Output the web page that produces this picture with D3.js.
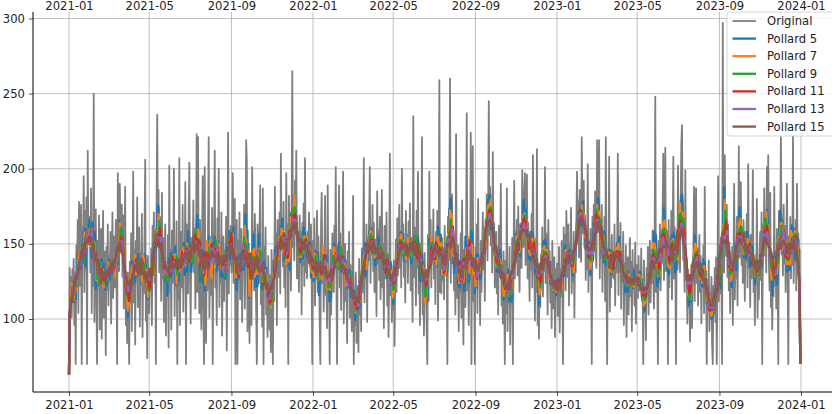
<!DOCTYPE html>
<html>
<head>
<meta charset="utf-8">
<script src="https://cdn.jsdelivr.net/npm/d3@7"></script>
<style>
  body { margin: 0; background: #fff; }
  text { font-family: "DejaVu Sans", sans-serif; }
</style>
</head>
<body>
<svg id="chart" width="832" height="414"></svg>
<script>
// daily values, one year per array
const data2021 = [
  63,134,112,128,101,133,118,140,96,131,70,149,121,166,104,178,122,139,176,70,161,143,195,118,172,133,181,70,212,150,167,
  168,131,187,104,159,122,250,98,146,173,112,70,152,128,169,93,141,160,87,138,172,101,127,145,76,148,119,163,
  109,142,125,158,97,137,171,114,133,155,121,166,136,70,197,148,132,190,161,144,176,128,169,107,143,188,96,118,84,131,102,
  70,138,116,157,92,129,198,111,146,83,152,127,181,108,139,161,95,144,123,170,88,135,117,158,206,99,131,74,142,120,
  104,133,119,147,96,162,138,171,124,158,70,177,236,149,186,131,168,143,112,184,127,154,98,141,163,89,135,117,156,81,202,
  118,146,93,159,124,137,200,102,148,127,165,70,139,113,207,96,142,158,121,176,105,149,132,191,70,163,138,117,169,204,
  128,97,154,136,142,179,131,160,107,145,223,118,221,139,104,166,125,93,150,195,110,70,201,128,84,147,119,163,221,101,138,
  152,116,174,70,139,158,212,121,143,96,167,133,200,108,149,124,171,89,137,155,112,146,128,168,79,141,224,117,153,136,162,
  131,159,197,124,145,180,70,138,166,70,152,129,171,113,143,160,98,149,134,176,107,142,219,205,92,128,150,84,117,139,
  96,201,133,158,119,170,142,105,70,163,147,124,159,189,110,137,95,187,70,148,126,161,103,134,88,142,117,93,129,78,146,
  121,70,139,112,188,134,157,96,166,143,128,171,117,210,149,162,135,178,121,154,108,197,141,163,70,182,137,156,119,168,
  265,148,158,139,192,161,212,127,151,150,118,169,141,158,103,164,136,177,122,207,131,149,127,158,140,171,135,146,163,124,70
];
const data2022 = [
  152,128,167,109,146,131,172,118,155,137,99,70,161,184,124,143,105,138,182,116,131,94,189,112,127,70,146,103,121,157,136,
  118,162,134,201,126,70,149,138,189,121,157,106,143,131,198,97,128,150,112,139,84,145,123,158,101,136,117,92,
  128,182,70,115,96,131,84,109,122,78,140,103,126,92,147,118,136,207,111,144,127,163,98,152,139,171,201,124,158,143,176,
  132,164,118,153,141,102,185,137,159,126,168,113,145,186,121,150,94,162,138,127,171,109,143,88,135,210,116,131,98,124,
  107,139,82,126,153,118,167,129,145,176,134,158,121,200,142,163,128,149,111,172,138,156,124,165,143,177,119,154,136,98,235,
  128,161,143,109,172,134,198,117,150,96,139,124,221,103,131,89,144,118,127,95,70,156,112,198,134,166,121,152,138,173,
  127,149,110,158,136,172,99,141,259,118,133,117,154,126,147,113,162,131,138,145,70,168,139,176,260,124,158,183,137,151,119,
  142,103,223,128,114,149,92,136,118,157,101,179,124,83,146,131,108,152,237,119,137,96,143,126,224,70,158,215,112,134,70,
  148,121,163,104,180,127,139,96,152,118,144,171,133,158,112,166,147,183,139,172,245,156,188,149,176,131,211,143,164,121,
  135,158,117,146,103,162,128,141,190,109,134,97,145,118,70,139,104,187,92,126,111,148,83,131,119,154,70,143,192,127,158,
  138,166,129,175,142,118,163,151,134,199,172,148,181,197,136,159,196,127,164,140,112,158,133,170,121,209,145,138,99,152,
  118,213,96,120,87,134,108,143,126,161,115,149,132,201,124,157,138,103,166,129,145,111,138,94,152,123,107,141,88,133,119
];
const data2023 = [
  137,102,126,148,91,133,115,152,124,70,161,138,156,119,172,147,128,163,109,150,136,174,117,142,125,158,101,144,131,166,198,
  152,179,141,186,163,138,221,174,157,192,148,169,126,155,133,203,118,147,129,160,142,70,168,139,176,150,185,143,
  134,219,158,172,219,127,163,141,176,118,154,137,168,112,221,129,70,146,133,208,105,139,121,156,128,142,127,163,109,145,131,
  148,210,116,152,131,164,107,143,125,158,96,137,119,149,88,132,141,103,127,154,115,138,92,146,121,134,109,151,97,128,
  136,114,142,119,131,118,147,112,126,70,139,108,121,86,134,117,148,103,129,152,111,138,124,159,131,107,146,248,118,141,127,
  70,152,128,163,119,145,137,171,210,126,148,214,132,159,143,70,166,121,154,138,172,113,149,208,127,161,142,70,155,133,
  202,147,138,131,176,217,229,154,139,142,118,199,126,141,97,133,108,122,85,119,136,94,128,143,188,112,150,187,124,147,109,
  131,156,118,142,97,137,121,149,104,188,115,132,70,126,108,139,92,117,101,128,84,70,122,106,134,98,141,70,127,195,112,
  138,117,152,126,70,297,143,131,209,158,142,176,128,163,119,151,104,137,122,148,96,131,190,113,145,127,168,109,152,215,
  141,172,191,136,159,124,166,147,112,158,139,170,121,203,134,149,108,156,127,143,199,118,135,96,142,124,180,101,129,113,147,
  158,126,171,70,163,142,187,149,168,131,201,154,209,137,119,184,108,126,93,138,115,188,122,145,107,160,134,70,172,156,
  167,221,143,158,129,176,137,162,118,149,190,131,70,155,143,168,127,159,136,222,124,151,138,166,119,190,142,157,128,146,70
];

const windows = [5, 7, 9, 11, 13, 15];
const seriesNames = ["Original", "Pollard 5", "Pollard 7", "Pollard 9", "Pollard 11", "Pollard 13", "Pollard 15"];
const seriesColors = ["#7f7f7f", "#1f77b4", "#ff7f0e", "#2ca02c", "#d62728", "#9467bd", "#8c564b"];
const xTickLabels = ["2021-01", "2021-05", "2021-09", "2022-01", "2022-05", "2022-09", "2023-01", "2023-05", "2023-09", "2024-01"];
const yTickValues = [100, 150, 200, 250, 300];

const original = data2021.concat(data2022, data2023);
const start = new Date(Date.UTC(2021, 0, 1));
const dates = original.map((v, i) => d3.utcDay.offset(start, i));

// centred window, shrinking at both ends
function pollard(values, k) {
  const h = (k - 1) / 2;
  return values.map((v, i) => {
    const r = Math.min(h, i, values.length - 1 - i);
    return d3.mean(values.slice(i - r, i + r + 1));
  });
}

const series = [original].concat(windows.map(k => pollard(original, k)));

const svg = d3.select("#chart");
const plotLeft = 33, plotRight = 832, plotTop = 12, plotBottom = 392;

const parseTick = d3.utcParse("%Y-%m");
const x = d3.scaleUtc()
  .domain([new Date(Date.UTC(2021, 0, 1)), new Date(Date.UTC(2024, 0, 1))])
  .range([69, 801]);
const y = d3.scaleLinear().domain([100, 300]).range([319, 18.5]);
const xTicks = xTickLabels.map(parseTick);

// grid
const grid = svg.append("g").attr("stroke", "#b0b0b0").attr("stroke-width", 0.8);
grid.selectAll(".gx").data(xTicks).enter().append("line")
  .attr("x1", d => x(d)).attr("x2", d => x(d))
  .attr("y1", plotTop).attr("y2", plotBottom);
grid.selectAll(".gy").data(yTickValues).enter().append("line")
  .attr("x1", plotLeft).attr("x2", plotRight)
  .attr("y1", d => y(d)).attr("y2", d => y(d));

// lines
const line = d3.line()
  .x((d, i) => x(dates[i]))
  .y(d => y(d));

svg.append("g").selectAll("path")
  .data(series)
  .enter().append("path")
  .attr("d", line)
  .attr("fill", "none")
  .attr("stroke", (d, i) => seriesColors[i])
  .attr("stroke-width", (d, i) => i === 0 ? 1.8 : 2.3)
  .attr("stroke-linejoin", "round");

// axes
const fmt = d3.utcFormat("%Y-%m");
const xAxis = svg.append("g")
  .attr("transform", `translate(0,${plotBottom})`)
  .call(d3.axisBottom(x).tickValues(xTicks).tickFormat(fmt).tickSize(4).tickPadding(5));
const topAxis = svg.append("g")
  .attr("transform", `translate(0,${plotTop})`)
  .call(d3.axisTop(x).tickValues(xTicks).tickFormat(fmt).tickSize(0).tickPadding(2.5));
const yAxis = svg.append("g")
  .attr("transform", `translate(${plotLeft},0)`)
  .call(d3.axisLeft(y).tickValues(yTickValues).tickSize(4).tickPadding(4));

[xAxis, topAxis, yAxis].forEach(a => {
  a.select(".domain").remove();
  a.selectAll("text").attr("font-size", "11.6px").attr("fill", "#222").attr("font-family", "DejaVu Sans, sans-serif");
  a.selectAll(".tick line").attr("stroke", "#222").attr("stroke-width", 0.8);
});

// spines
svg.append("line").attr("x1", plotLeft).attr("x2", plotLeft).attr("y1", plotTop).attr("y2", plotBottom)
  .attr("stroke", "#000").attr("stroke-width", 1);
svg.append("line").attr("x1", plotLeft).attr("x2", plotRight).attr("y1", plotBottom).attr("y2", plotBottom)
  .attr("stroke", "#000").attr("stroke-width", 1);

// legend
const lg = svg.append("g").attr("transform", "translate(727,12)");
lg.append("rect")
  .attr("width", 110).attr("height", 124).attr("rx", 3)
  .attr("fill", "#fff").attr("fill-opacity", 0.8)
  .attr("stroke", "#cccccc").attr("stroke-width", 0.8);
const item = lg.selectAll(".item").data(seriesNames).enter().append("g")
  .attr("transform", (d, i) => `translate(0,${9 + i * 17.6})`);
item.append("line")
  .attr("x1", 5.5).attr("x2", 29)
  .attr("stroke", (d, i) => seriesColors[i])
  .attr("stroke-width", (d, i) => i === 0 ? 1.8 : 2.3);
item.append("text")
  .attr("x", 40).attr("dy", "0.35em")
  .attr("font-size", "11.6px").attr("fill", "#222")
  .text(d => d);
</script>
</body>
</html>
